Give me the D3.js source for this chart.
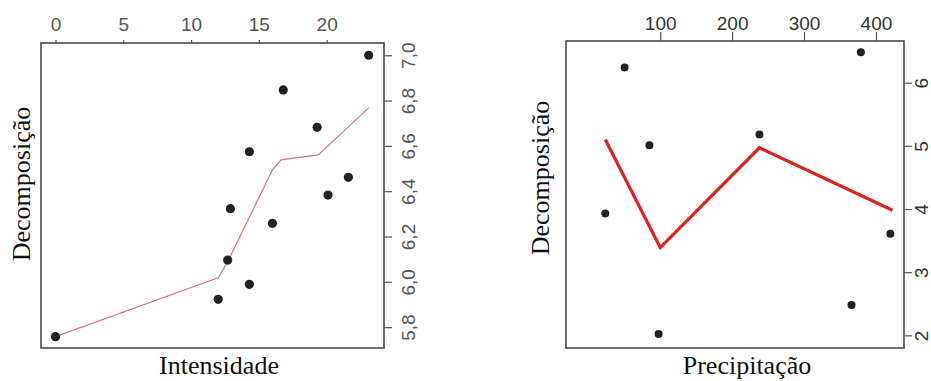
<!DOCTYPE html>
<html><head><meta charset="utf-8">
<script src="https://cdn.jsdelivr.net/npm/d3@7/dist/d3.min.js"></script>
<style>body{margin:0;background:#fff}svg{display:block}</style>
</head><body>
<svg id="c" width="931" height="381"></svg>
<script>
// Panel 1: Intensidade vs Decomposição
const intensX = [0, 12.0, 12.7, 12.9, 14.3, 14.3, 16.0, 16.8, 19.3, 20.1, 21.6, 23.1];
const intensY = [5.758, 5.923, 6.096, 6.323, 5.989, 6.574, 6.258, 6.847, 6.682, 6.383, 6.461, 7.0];
const intensLineX = [0, 12.0, 12.7, 16.0, 16.63, 19.38, 23.12];
const intensLineY = [5.758, 6.018, 6.089, 6.494, 6.538, 6.56, 6.769];
const intensTicksX = [0, 5, 10, 15, 20];
const intensTicksY = [5.8, 6.0, 6.2, 6.4, 6.6, 6.8, 7.0];
const intensTickLabelsY = ["5,8", "6,0", "6,2", "6,4", "6,6", "6,8", "7,0"];

// Panel 2: Precipitação vs Decomposição
const precX = [23.6, 50.5, 85, 97.7, 238, 366, 379, 420];
const precY = [3.93, 6.24, 5.01, 2.02, 5.18, 2.48, 6.48, 3.61];
const precLineX = [23.6, 100, 238, 423];
const precLineY = [5.10, 3.39, 4.97, 3.98];
const precTicksX = [100, 200, 300, 400];
const precTicksY = [2, 3, 4, 5, 6];

const svg = d3.select("#c");

function panel(o) {
  const g = svg.append("g");
  const x = d3.scaleLinear().domain(o.xd).range([o.box[0], o.box[1]]);
  const y = d3.scaleLinear().domain(o.yd).range([o.box[3], o.box[2]]);
  // box
  g.append("rect").attr("x", o.box[0]).attr("y", o.box[2])
    .attr("width", o.box[1]-o.box[0]).attr("height", o.box[3]-o.box[2])
    .attr("fill", "none").attr("stroke", "#4a4a4a").attr("stroke-width", 1.6);
  // top axis
  const top = g.append("g").attr("transform", `translate(0,${o.box[2]})`)
    .call(d3.axisTop(x).tickValues(o.tx).tickSize(o.tsTop).tickPadding(o.padTop).tickSizeOuter(0));
  top.select(".domain").remove();
  top.selectAll("line").attr("stroke", "#555").attr("stroke-width", 1.2);
  top.selectAll("text").attr("font-family", "Liberation Sans, Arial, sans-serif")
    .attr("font-size", 19).attr("fill", o.tickColor);
  // right axis
  const right = g.append("g").attr("transform", `translate(${o.box[1]},0)`)
    .call(d3.axisRight(y).tickValues(o.ty).tickSize(o.tsRight).tickFormat((d,i)=>o.tyl ? o.tyl[i] : d));
  right.select(".domain").remove();
  right.selectAll("line").attr("stroke", "#555").attr("stroke-width", 1.2);
  right.selectAll("text")
    .attr("font-family", "Liberation Sans, Arial, sans-serif")
    .attr("font-size", 19).attr("fill", o.tickColor)
    .attr("x", null).attr("dy", null)
    .attr("text-anchor", "middle")
    .attr("transform", `translate(${o.rlx},0) rotate(-90)`);
  // line
  const line = d3.line().x(d=>x(d[0])).y(d=>y(d[1]));
  g.append("path").datum(o.lx.map((v,i)=>[v,o.ly[i]]))
    .attr("d", line).attr("fill", "none").attr("stroke", o.lineColor)
    .attr("stroke-width", o.lineWidth).attr("stroke-linejoin", "miter");
  // points
  g.selectAll("circle.p").data(o.px.map((v,i)=>[v,o.py[i]])).join("circle")
    .attr("cx", d=>x(d[0])).attr("cy", d=>y(d[1])).attr("r", o.r).attr("fill", "#222");
  // titles
  g.append("text").attr("x", o.xtX).attr("y", 374).attr("text-anchor", "middle")
    .attr("font-family", "Liberation Serif, Times New Roman, serif").attr("font-size", 26)
    .attr("fill", "#111").text(o.xt);
  g.append("text").attr("transform", `translate(${o.ytX},${o.ytY}) rotate(-90)`)
    .attr("text-anchor", "middle")
    .attr("font-family", "Liberation Serif, Times New Roman, serif").attr("font-size", 26)
    .attr("fill", "#111").text("Decomposição");
}

panel({
  box: [41, 384, 43, 348], xd: [-1.07, 24.23], yd: [5.708, 7.054],
  tx: intensTicksX, ty: intensTicksY, tyl: intensTickLabelsY,
  tsTop: 3, padTop: 9, tsRight: 8, rlx: 31, tickColor: "#555",
  lx: intensLineX, ly: intensLineY, lineColor: "#cf7a78", lineWidth: 1.2,
  px: intensX, py: intensY, r: 4.6,
  xt: "Intensidade", xtX: 219, ytX: 30, ytY: 184
});

panel({
  box: [566, 904, 41, 348], xd: [-31, 439], yd: [1.8, 6.66],
  tx: precTicksX, ty: precTicksY, tyl: null,
  tsTop: 9, padTop: 2, tsRight: 8, rlx: 24, tickColor: "#333",
  lx: precLineX, ly: precLineY, lineColor: "#dd2222", lineWidth: 3.2,
  px: precX, py: precY, r: 4,
  xt: "Precipitação", xtX: 747, ytX: 549, ytY: 178
});
</script>
</body></html>
